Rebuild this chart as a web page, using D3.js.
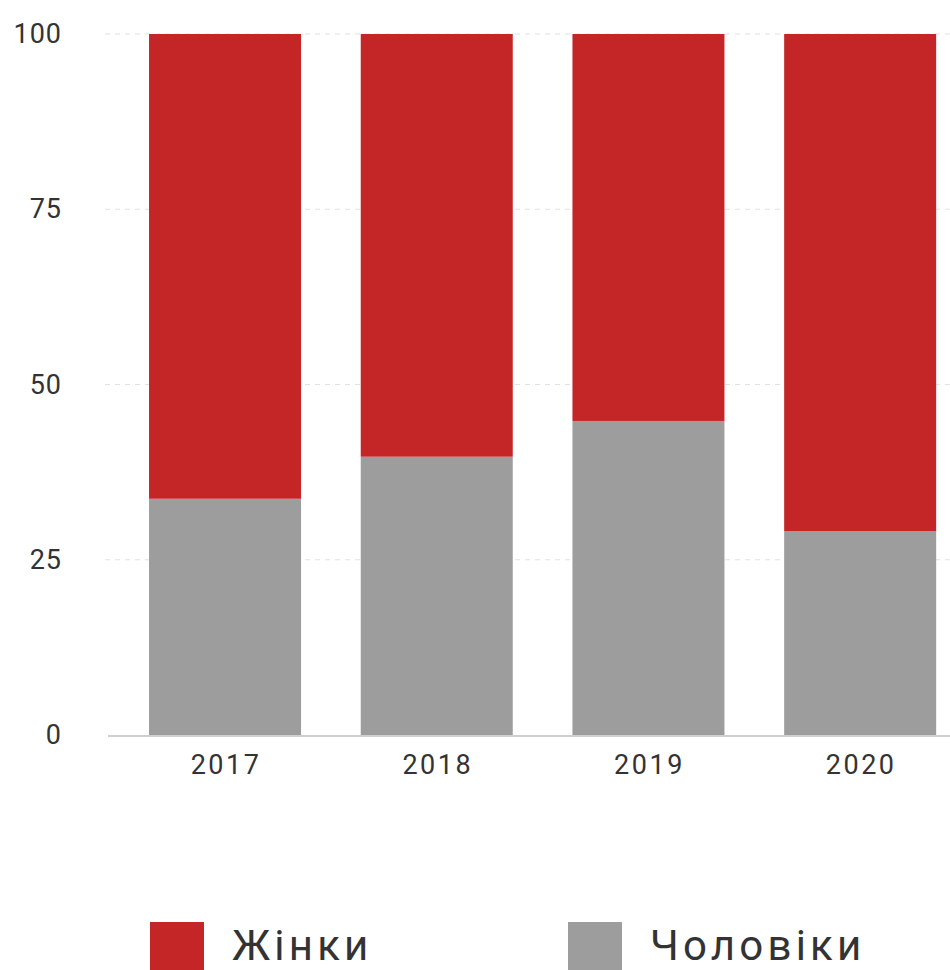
<!DOCTYPE html>
<html><head><meta charset="utf-8">
<script src="https://cdn.jsdelivr.net/npm/d3@7"></script>
<style>body{margin:0;background:#fff}svg{display:block}text{font-family:Roboto,"Noto Sans",sans-serif}</style>
</head><body>
<svg id="c" width="950" height="970"></svg>
<script>
const years = ["2017","2018","2019","2020"];
const men = [33.7, 39.7, 44.8, 29.1];
const women = [66.3, 60.3, 55.2, 70.9];
const yTicks = [0,25,50,75,100];
const seriesNames = ["Жінки","Чоловіки"];
const colors = ["#c42628","#9d9d9d"];

const svg = d3.select("#c");
const y = d3.scaleLinear().domain([0,100]).range([735,34]);
const x = d3.scaleBand().domain(years).range([106.7,978.5]).paddingInner(0.282).paddingOuter(0.2);

// gridlines
svg.append("g").selectAll("line").data(yTicks.filter(d=>d>0)).join("line")
  .attr("x1",105).attr("x2",950).attr("y1",d=>y(d)).attr("y2",d=>y(d))
  .attr("stroke","#e2e2e2").attr("stroke-width",1.2).attr("stroke-dasharray","5,5");

const rows = years.map((yr,i)=>({year:yr, "Чоловіки":men[i], "Жінки":women[i]}));
const stack = d3.stack().keys(["Чоловіки","Жінки"])(rows);
const col = {"Жінки":colors[0],"Чоловіки":colors[1]};
svg.append("g").selectAll("g").data(stack).join("g").attr("fill",d=>col[d.key])
  .selectAll("rect").data(d=>d).join("rect")
  .attr("x",d=>x(d.data.year)).attr("width",x.bandwidth())
  .attr("y",d=>y(d[1])).attr("height",d=>y(d[0])-y(d[1]));

// axis line
svg.append("line").attr("x1",108).attr("x2",950).attr("y1",736).attr("y2",736)
  .attr("stroke","#cfcfcf").attr("stroke-width",2);

// y labels
const yAxis = d3.axisLeft(y).tickValues(yTicks).tickSize(0).tickPadding(0);
const ya = svg.append("g").attr("transform","translate(62,0)").call(yAxis);
ya.select(".domain").remove();
ya.selectAll("text").attr("font-size",27).attr("fill","#333").attr("letter-spacing","1px")
  .attr("font-family","Roboto,sans-serif");

// x labels
const xAxis = d3.axisBottom(x).tickSize(0).tickPadding(0);
const xa = svg.append("g").attr("transform","translate(1,755)").call(xAxis);
xa.select(".domain").remove();
xa.selectAll("text").attr("font-size",27).attr("fill","#333").attr("dy","0.71em")
  .attr("letter-spacing","2.5px").attr("font-family","Roboto,sans-serif");

// legend
const legX = [150, 568];
const lg = svg.append("g").selectAll("g").data(seriesNames).join("g")
  .attr("transform",(d,i)=>`translate(${legX[i]},922)`);
lg.append("rect").attr("width",54).attr("height",50).attr("fill",(d,i)=>colors[i]);
lg.append("text").attr("x",82).attr("y",38).attr("font-size",42).attr("fill","#333")
  .attr("letter-spacing","4.2px").attr("font-family","Roboto,sans-serif").text(d=>d);
</script>
</body></html>
